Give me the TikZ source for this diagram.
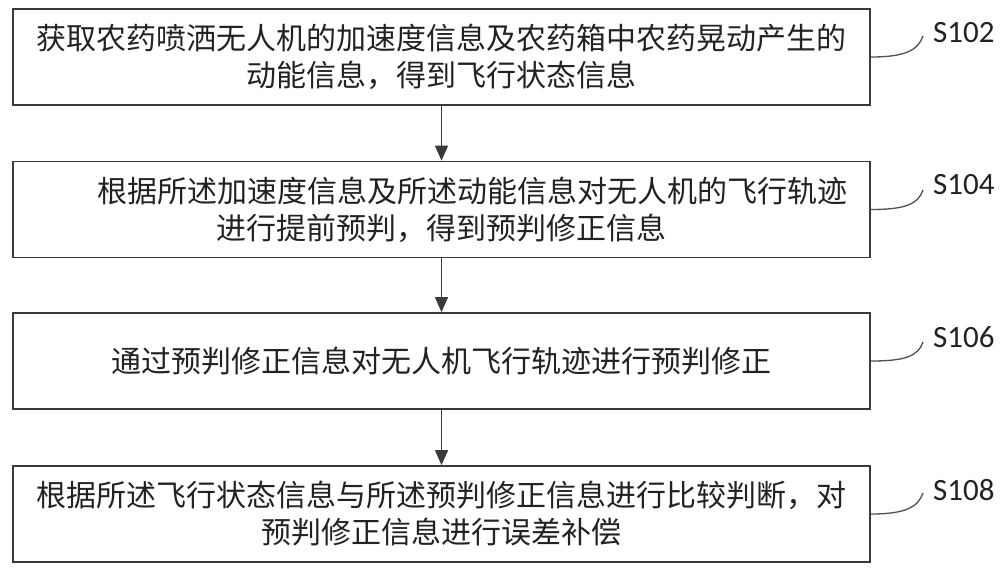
\documentclass[tikz,border=0pt]{standalone}
\usepackage{fontspec}
\setmainfont{Carlito}
\newfontfamily\cjk{Noto Sans CJK SC}
\usetikzlibrary{arrows.meta}
\definecolor{boxc}{HTML}{3A3A3A}
\definecolor{leadc}{HTML}{505050}
\definecolor{txtc}{HTML}{222222}
\begin{document}
\begin{tikzpicture}[x=1pt,y=-1pt,
  box/.style={draw=boxc, line width=1.8pt, minimum width=857pt, minimum height=96pt,
    inner sep=0pt, font=\cjk\fontsize{30}{37}\selectfont, text=txtc, align=center},
  lab/.style={font=\fontsize{31}{36}\selectfont, anchor=west, inner sep=0pt, text=txtc},
  lead/.style={draw=leadc, line width=1.3pt},
  arr/.style={draw=boxc, line width=1.5pt, -{Triangle[length=15pt,width=13pt]}}]
\useasboundingbox (0,0) rectangle (1000,571);
\node[box] (b1) at (441.5,57) {获取农药喷洒无人机的加速度信息及农药箱中农药晃动产生的\\动能信息，得到飞行状态信息};
\node[box] (b2) at (441.5,209.5) {\hspace*{62pt}根据所述加速度信息及所述动能信息对无人机的飞行轨迹\\进行提前预判，得到预判修正信息};
\node[box] (b3) at (441.5,361) {通过预判修正信息对无人机飞行轨迹进行预判修正};
\node[box] (b4) at (441.5,514) {根据所述飞行状态信息与所述预判修正信息进行比较判断，对\\预判修正信息进行误差补偿};
\draw[arr] (b1) -- (b2);
\draw[arr] (b2) -- (b3);
\draw[arr] (b3) -- (b4);
\node[lab] (l1) at (933,33) {S102};
\node[lab] (l2) at (933,185) {S104};
\node[lab] (l3) at (933,337) {S106};
\node[lab] (l4) at (933,490) {S108};
\coordinate (c1) at (923,36);
\coordinate (c2) at (923,190);
\coordinate (c3) at (923,342);
\coordinate (c4) at (923,493);
\draw[lead] (b1.east) .. controls +(35,0) and +(-5,14) .. (c1);
\draw[lead] (b2.east) .. controls +(35,0) and +(-5,14) .. (c2);
\draw[lead] (b3.east) .. controls +(35,0) and +(-5,14) .. (c3);
\draw[lead] (b4.east) .. controls +(35,0) and +(-5,14) .. (c4);
\end{tikzpicture}
\end{document}
